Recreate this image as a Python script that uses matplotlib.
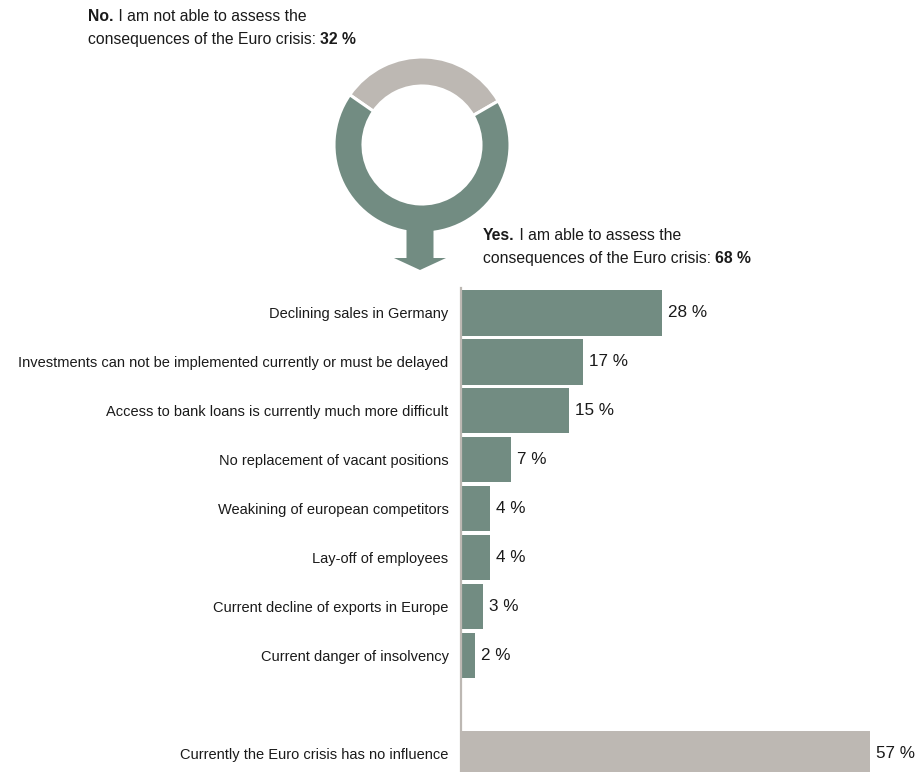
import matplotlib
matplotlib.use("Agg")
import matplotlib.pyplot as plt
from matplotlib.patches import FancyArrow

plt.rcParams['font.family'] = ['Liberation Sans', 'DejaVu Sans']

# Daten
impacts = ['Declining sales in Germany',
           'Investments can not be implemented currently or must be delayed',
           'Access to bank loans is currently much more difficult',
           'No replacement of vacant positions',
           'Weakining of european competitors',
           'Lay-off of employees',
           'Current decline of exports in Europe',
           'Current danger of insolvency']
impact_vals = [28, 17, 15, 7, 4, 4, 3, 2]
no_influence_label = 'Currently the Euro crisis has no influence'
no_influence_val = 57
assess_shares = [32, 68]  # nein, ja

GREEN = '#728c82'
GREY = '#bdb8b3'
TXT = '#1a1a1a'

W, H = 916, 772
fig = plt.figure(figsize=(W / 100, H / 100), dpi=100)


def px(x, y):
    # Pixelkoordinaten (oben links) -> Figure-Koordinaten
    return x / W, 1 - y / H


# Balkendiagramm
top, bottom = 288, 772
ax = fig.add_axes([461 / W, 0, 430 / W, (bottom - top) / H])
pos = list(range(len(impacts))) + [len(impacts) + 1]
vals = impact_vals + [no_influence_val]
cols = [GREEN] * len(impacts) + [GREY]
ax.barh(pos, vals, height=0.92, color=cols)
ax.set_xlim(0, 60)
ax.set_ylim(9.37, -0.51)
ax.set_yticks(pos)
ax.set_yticklabels(impacts + [no_influence_label], fontsize=10.5, color=TXT)
ax.tick_params(axis='y', length=0, pad=9)
ax.set_xticks([])
for s in ['top', 'right', 'bottom']:
    ax.spines[s].set_visible(False)
ax.spines['left'].set_color(GREY)
ax.spines['left'].set_linewidth(1.6)
for p, v in zip(pos, vals):
    ax.text(v + 0.85, p, f'{v} %', va='center', ha='left', fontsize=12.3, color=TXT)

# Ringdiagramm mit Pfeil
axd = fig.add_axes([(422 - 90) / W, 1 - (145 + 128) / H, 180 / W, 220 / H])
axd.pie(assess_shares, radius=88, startangle=30, colors=[GREY, GREEN],
        wedgeprops=dict(width=29, edgecolor='white', linewidth=2.2))
axd.add_patch(FancyArrow(-2, -76, 0, -49, width=27, head_width=52, head_length=12,
                         length_includes_head=True, color=GREEN, lw=0, zorder=5))
axd.set_xlim(-90, 90)
axd.set_ylim(-128, 92)
axd.set_aspect('equal')
axd.axis('off')

# Beschriftungen oben (fett + normal in einer Zeile, gleiche Grundlinie)
FS = 11.3
renderer = fig.canvas.get_renderer()


def line(x, y, first, second, first_bold):
    a = fig.text(*px(x, y), first, fontsize=FS, va='baseline', color=TXT,
                 fontweight='bold' if first_bold else 'normal')
    x2 = a.get_window_extent(renderer).x1
    fig.text(x2 / W, a.get_position()[1], second, fontsize=FS, va='baseline', color=TXT,
             fontweight='normal' if first_bold else 'bold')


line(88, 21, 'No.', ' I am not able to assess the', True)
line(88, 44, 'consequences of the Euro crisis: ', '32 %', False)
line(483, 240, 'Yes.', ' I am able to assess the', True)
line(483, 263, 'consequences of the Euro crisis: ', '68 %', False)

fig.savefig('out.png', dpi=100, facecolor='white')
